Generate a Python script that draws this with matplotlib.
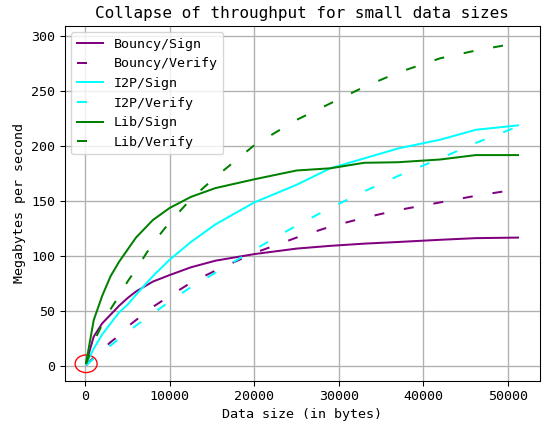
#!/usr/bin/env python3
"""Durchsatz von Sign/Verify fuer kleine Datengroessen."""

import matplotlib

matplotlib.use("Agg")
import matplotlib.pyplot as plt
from matplotlib.patches import Ellipse

matplotlib.rcParams["font.family"] = "DejaVu Sans Mono"

# Datengroessen in Bytes
SIZES = [100, 1000, 2000, 3000, 4000, 5000, 6000, 8000, 10000, 12500, 15400,
         20000, 25000, 29000, 33000, 37000, 42000, 46200, 51200]

# Durchsatz in MB/s
BOUNCY_SIGN = [3, 27, 39, 47, 55, 62, 68, 77, 83, 90, 96,
               102, 107, 109.5, 111.5, 113, 115, 116.5, 117]
BOUNCY_VERIFY = [1, 8, 15, 22, 28, 36, 42, 54, 64, 76, 87,
                 103, 117, 127, 135, 142, 149, 155, 161]
I2P_SIGN = [2, 16, 29, 39, 49, 56, 65, 82, 97, 113, 129,
            149, 165, 180, 189, 198, 206, 215, 219]
I2P_VERIFY = [1, 7, 13, 19, 25, 31, 37, 48, 59, 72, 85,
              106, 128, 144, 159, 173, 189, 203, 218]
LIB_SIGN = [3, 42, 64, 82, 95, 106, 117, 133, 144, 154, 162,
            170, 178, 180, 185, 185.5, 188, 192, 192]
LIB_VERIFY = [2, 22, 38, 52, 64, 77, 88, 112, 131, 152, 172,
              201, 224, 239, 254, 267, 280, 287, 294]

SERIES = [
    ("Bouncy/Sign", BOUNCY_SIGN, "purple", "-"),
    ("Bouncy/Verify", BOUNCY_VERIFY, "purple", (0, (5, 10))),
    ("I2P/Sign", I2P_SIGN, "cyan", "-"),
    ("I2P/Verify", I2P_VERIFY, "cyan", (0, (5, 10))),
    ("Lib/Sign", LIB_SIGN, "green", "-"),
    ("Lib/Verify", LIB_VERIFY, "green", (0, (5, 10))),
]


def main() -> None:
    fig = plt.figure(figsize=(543 / 96, 425 / 96), dpi=96)
    ax = fig.add_axes([0.1188, 0.1042, 0.8757, 0.8353])

    for label, values, color, style in SERIES:
        ax.plot(SIZES, values, color=color, linestyle=style, linewidth=1.5, label=label)

    # Markierung am Ursprung
    ax.add_patch(Ellipse((100, 2.3), 2600, 16, fill=False, edgecolor="red", linewidth=1))

    ax.set_xlim(-2456, 53800)
    ax.set_ylim(-13.1, 309.6)
    ax.set_title("Collapse of throughput for small data sizes", fontsize=12)
    ax.set_xlabel("Data size (in bytes)")
    ax.set_ylabel("Megabytes per second")
    ax.grid(True, color="#b0b0b0", linewidth=1)
    ax.set_axisbelow(True)
    ax.legend(loc="upper left", fontsize=10)

    fig.savefig("out.png", dpi=96)


if __name__ == "__main__":
    main()
